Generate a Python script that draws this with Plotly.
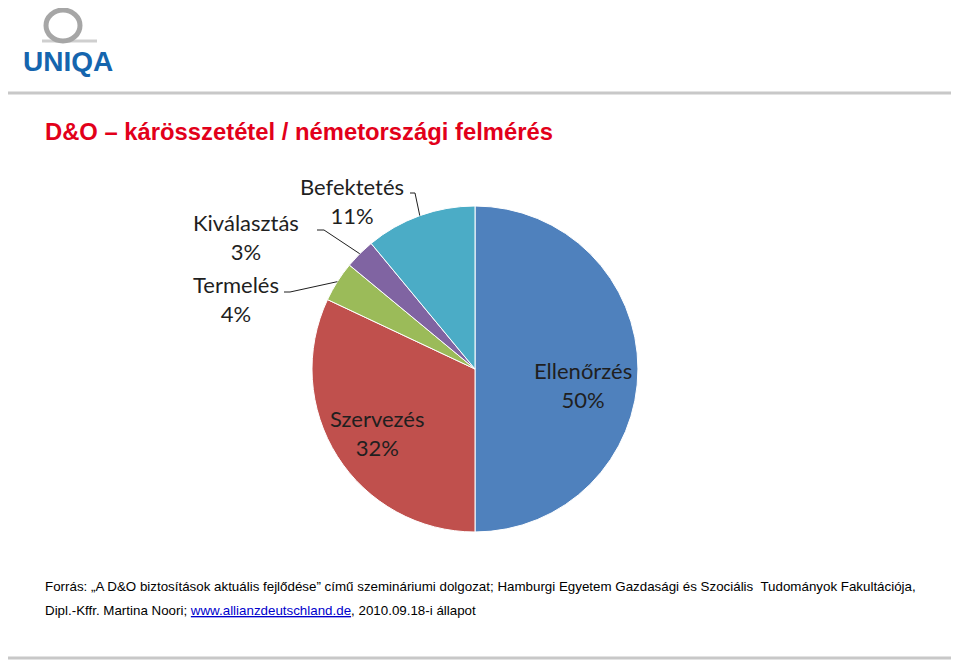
import math
import plotly.graph_objects as go

W, H = 959, 660
OFF = 8  # page body margin in the browser

labels = ["Ellenőrzés", "Szervezés", "Termelés", "Kiválasztás", "Befektetés"]
values = [50, 32, 4, 3, 11]
colors = ["#4F81BD", "#C0504D", "#9BBB59", "#8064A2", "#4BACC6"]

title_text = "D&O – kárösszetétel / németországi felmérés"
source_line1 = ("Forrás: „A D&O biztosítások aktuális fejlődése” című szemináriumi dolgozat; "
                "Hamburgi Egyetem Gazdasági és Szociális  Tudományok Fakultációja,")
source_line2_a = "Dipl.-Kffr. Martina Noori; "
source_link = "www.allianzdeutschland.de"
source_line2_b = ", 2010.09.18-i állapot"


def px(x):
    return (x - OFF) / W


def py(y):
    return 1 - (y - OFF) / H


# pie geometry (screen pixels)
cx, cy, R = 475, 369, 163

fig = go.Figure()
fig.add_trace(go.Pie(
    labels=labels, values=values, sort=False, direction="clockwise", rotation=0,
    marker=dict(colors=colors, line=dict(color="white", width=1)),
    textinfo="none", hoverinfo="label+percent", showlegend=False,
    domain=dict(x=[px(cx - R), px(cx + R)], y=[py(cy + R), py(cy - R)]),
))

total = sum(values)
mid_pts = {}
acc = 0
for lab, v in zip(labels, values):
    mid = (acc + v / 2) / total * 360
    acc += v
    a = math.radians(mid)
    mid_pts[lab] = (cx + R * math.sin(a), cy - R * math.cos(a))

lab_font = dict(family="Lato, Open Sans, sans-serif", size=22, color="#1f1f1f")
label_pos = {
    "Ellenőrzés": (583, 385),
    "Szervezés": (377, 433),
    "Termelés": (236, 299),
    "Kiválasztás": (246, 237),
    "Befektetés": (352, 201),
}
annotations = []
for lab, v in zip(labels, values):
    x, y = label_pos[lab]
    annotations.append(dict(
        x=px(x), y=py(y), xref="paper", yref="paper", showarrow=False,
        text=f"{lab}<br>{round(v / total * 100)}%", font=lab_font,
        xanchor="center", yanchor="middle", align="center",
    ))

shapes = []
# leader lines
leader_start = {
    "Termelés": [(284, 292), (290, 292)],
    "Kiválasztás": [(317, 230), (324, 230)],
    "Befektetés": [(410, 193), (415, 193)],
}
for lab, pts in leader_start.items():
    ex, ey = mid_pts[lab]
    path_pts = pts + [(ex, ey)]
    d = "M " + " L ".join(f"{px(x)},{py(y)}" for x, y in path_pts)
    shapes.append(dict(type="path", xref="paper", yref="paper", path=d,
                       line=dict(color="#1f1f1f", width=1)))

# horizontal rules
for yy in (93, 658):
    shapes.append(dict(type="line", xref="paper", yref="paper",
                       x0=px(0), x1=px(W), y0=py(yy), y1=py(yy),
                       line=dict(color="#C8C8C8", width=3)))

# logo symbol
shapes.append(dict(type="line", xref="paper", yref="paper",
                   x0=px(42), x1=px(97), y0=py(41), y1=py(41),
                   line=dict(color="#CFCFCF", width=3)))
shapes.append(dict(type="circle", xref="paper", yref="paper",
                   x0=px(46), x1=px(80), y0=py(41), y1=py(10),
                   line=dict(color="#A6A6A6", width=5)))

annotations.append(dict(x=px(68), y=py(61), xref="paper", yref="paper", showarrow=False,
                        text="<b>UNIQA</b>", xanchor="center", yanchor="middle",
                        font=dict(family="Liberation Sans, Arial, sans-serif", size=28, color="#1565AE")))

annotations.append(dict(x=px(43), y=py(131), xref="paper", yref="paper", showarrow=False,
                        text=f"<b>{title_text}</b>", xanchor="left", yanchor="middle",
                        font=dict(family="Liberation Sans, Arial, sans-serif", size=23.8, color="#E2001A")))

src_font = dict(family="Liberation Sans, Arial, sans-serif", size=13.35, color="#000000")
annotations.append(dict(x=px(43), y=py(586), xref="paper", yref="paper", showarrow=False,
                        text=source_line1, xanchor="left", yanchor="middle", font=src_font))
annotations.append(dict(x=px(43), y=py(610), xref="paper", yref="paper", showarrow=False,
                        text=(source_line2_a
                              + f"<span style='color:#0000CC;text-decoration:underline'>{source_link}</span>"
                              + source_line2_b),
                        xanchor="left", yanchor="middle", font=src_font))

fig.update_layout(
    width=W, height=H, margin=dict(l=0, r=0, t=0, b=0),
    paper_bgcolor="white", plot_bgcolor="white",
    shapes=shapes, annotations=annotations,
)

fig.write_html("out.html")
